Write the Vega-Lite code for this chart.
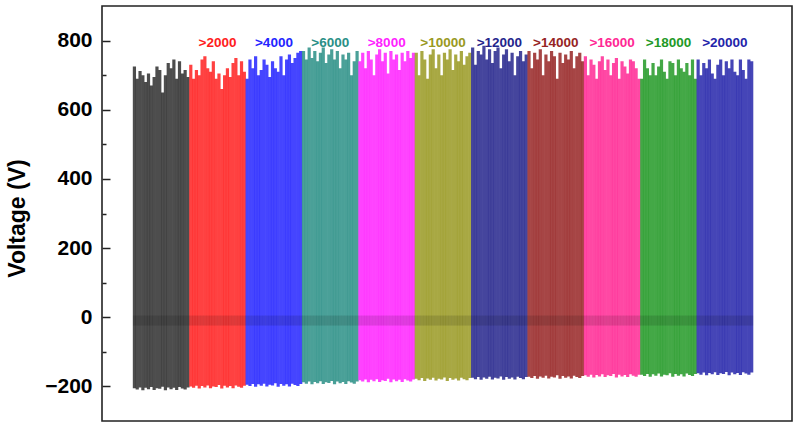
{
"$schema": "https://vega.github.io/schema/vega-lite/v6.json",
"width": 690, "height": 415,
"autosize": {"type": "none"},
"padding": {"left": 102, "top": 6, "right": 7, "bottom": 5},
"background": "white",
"config": {"view": {"stroke": "#222", "strokeWidth": 1.6}, "font": "Liberation Sans"},
"datasets": {
"sig": [
{"g":"0","t":0.025,"lo":-205,"hi":725},{"g":"0","t":0.075,"lo":-209,"hi":690},{"g":"0","t":0.125,"lo":-203,"hi":712},{"g":"0","t":0.175,"lo":-211,"hi":700},{"g":"0","t":0.225,"lo":-204,"hi":680},{"g":"0","t":0.275,"lo":-208,"hi":705},{"g":"0","t":0.325,"lo":-202,"hi":670},{"g":"0","t":0.375,"lo":-210,"hi":695},{"g":"0","t":0.425,"lo":-205,"hi":725},{"g":"0","t":0.475,"lo":-207,"hi":715},{"g":"0","t":0.525,"lo":-201,"hi":650},{"g":"0","t":0.575,"lo":-211,"hi":700},{"g":"0","t":0.625,"lo":-203,"hi":735},{"g":"0","t":0.675,"lo":-208,"hi":720},{"g":"0","t":0.725,"lo":-204,"hi":745},{"g":"0","t":0.775,"lo":-210,"hi":690},{"g":"0","t":0.825,"lo":-202,"hi":740},{"g":"0","t":0.875,"lo":-206,"hi":705},{"g":"0","t":0.925,"lo":-209,"hi":715},{"g":"0","t":0.975,"lo":-203,"hi":695},
{"g":">2000","t":1.025,"lo":-200,"hi":730},{"g":">2000","t":1.075,"lo":-204,"hi":690},{"g":">2000","t":1.125,"lo":-198,"hi":715},{"g":">2000","t":1.175,"lo":-206,"hi":700},{"g":">2000","t":1.225,"lo":-199,"hi":745},{"g":">2000","t":1.275,"lo":-203,"hi":755},{"g":">2000","t":1.325,"lo":-197,"hi":720},{"g":">2000","t":1.375,"lo":-205,"hi":710},{"g":">2000","t":1.425,"lo":-200,"hi":740},{"g":">2000","t":1.475,"lo":-202,"hi":690},{"g":">2000","t":1.525,"lo":-196,"hi":705},{"g":">2000","t":1.575,"lo":-206,"hi":660},{"g":">2000","t":1.625,"lo":-198,"hi":700},{"g":">2000","t":1.675,"lo":-203,"hi":720},{"g":">2000","t":1.725,"lo":-199,"hi":695},{"g":">2000","t":1.775,"lo":-205,"hi":735},{"g":">2000","t":1.825,"lo":-197,"hi":750},{"g":">2000","t":1.875,"lo":-201,"hi":700},{"g":">2000","t":1.925,"lo":-204,"hi":740},{"g":">2000","t":1.975,"lo":-198,"hi":710},
{"g":">4000","t":2.025,"lo":-195,"hi":690},{"g":">4000","t":2.075,"lo":-199,"hi":745},{"g":">4000","t":2.125,"lo":-193,"hi":720},{"g":">4000","t":2.175,"lo":-201,"hi":755},{"g":">4000","t":2.225,"lo":-194,"hi":700},{"g":">4000","t":2.275,"lo":-198,"hi":715},{"g":">4000","t":2.325,"lo":-192,"hi":745},{"g":">4000","t":2.375,"lo":-200,"hi":730},{"g":">4000","t":2.425,"lo":-195,"hi":695},{"g":">4000","t":2.475,"lo":-197,"hi":740},{"g":">4000","t":2.525,"lo":-191,"hi":720},{"g":">4000","t":2.575,"lo":-201,"hi":710},{"g":">4000","t":2.625,"lo":-193,"hi":755},{"g":">4000","t":2.675,"lo":-198,"hi":700},{"g":">4000","t":2.725,"lo":-194,"hi":745},{"g":">4000","t":2.775,"lo":-200,"hi":760},{"g":">4000","t":2.825,"lo":-192,"hi":735},{"g":">4000","t":2.875,"lo":-196,"hi":750},{"g":">4000","t":2.925,"lo":-199,"hi":765},{"g":">4000","t":2.975,"lo":-193,"hi":770},
{"g":">6000","t":3.025,"lo":-188,"hi":770},{"g":">6000","t":3.075,"lo":-192,"hi":745},{"g":">6000","t":3.125,"lo":-186,"hi":780},{"g":">6000","t":3.175,"lo":-194,"hi":750},{"g":">6000","t":3.225,"lo":-187,"hi":770},{"g":">6000","t":3.275,"lo":-191,"hi":740},{"g":">6000","t":3.325,"lo":-185,"hi":765},{"g":">6000","t":3.375,"lo":-193,"hi":780},{"g":">6000","t":3.425,"lo":-188,"hi":735},{"g":">6000","t":3.475,"lo":-190,"hi":760},{"g":">6000","t":3.525,"lo":-184,"hi":775},{"g":">6000","t":3.575,"lo":-194,"hi":745},{"g":">6000","t":3.625,"lo":-186,"hi":770},{"g":">6000","t":3.675,"lo":-191,"hi":720},{"g":">6000","t":3.725,"lo":-187,"hi":760},{"g":">6000","t":3.775,"lo":-193,"hi":745},{"g":">6000","t":3.825,"lo":-185,"hi":765},{"g":">6000","t":3.875,"lo":-189,"hi":700},{"g":">6000","t":3.925,"lo":-192,"hi":740},{"g":">6000","t":3.975,"lo":-186,"hi":770},
{"g":">8000","t":4.025,"lo":-182,"hi":740},{"g":">8000","t":4.075,"lo":-186,"hi":765},{"g":">8000","t":4.125,"lo":-180,"hi":720},{"g":">8000","t":4.175,"lo":-188,"hi":770},{"g":">8000","t":4.225,"lo":-181,"hi":745},{"g":">8000","t":4.275,"lo":-185,"hi":700},{"g":">8000","t":4.325,"lo":-179,"hi":760},{"g":">8000","t":4.375,"lo":-187,"hi":775},{"g":">8000","t":4.425,"lo":-182,"hi":740},{"g":">8000","t":4.475,"lo":-184,"hi":765},{"g":">8000","t":4.525,"lo":-178,"hi":705},{"g":">8000","t":4.575,"lo":-188,"hi":770},{"g":">8000","t":4.625,"lo":-180,"hi":745},{"g":">8000","t":4.675,"lo":-185,"hi":760},{"g":">8000","t":4.725,"lo":-181,"hi":715},{"g":">8000","t":4.775,"lo":-187,"hi":765},{"g":">8000","t":4.825,"lo":-179,"hi":740},{"g":">8000","t":4.875,"lo":-183,"hi":770},{"g":">8000","t":4.925,"lo":-186,"hi":750},{"g":">8000","t":4.975,"lo":-180,"hi":765},
{"g":">10000","t":5.025,"lo":-178,"hi":765},{"g":">10000","t":5.075,"lo":-182,"hi":700},{"g":">10000","t":5.125,"lo":-176,"hi":770},{"g":">10000","t":5.175,"lo":-184,"hi":745},{"g":">10000","t":5.225,"lo":-177,"hi":690},{"g":">10000","t":5.275,"lo":-181,"hi":760},{"g":">10000","t":5.325,"lo":-175,"hi":775},{"g":">10000","t":5.375,"lo":-183,"hi":720},{"g":">10000","t":5.425,"lo":-178,"hi":760},{"g":">10000","t":5.475,"lo":-180,"hi":700},{"g":">10000","t":5.525,"lo":-174,"hi":765},{"g":">10000","t":5.575,"lo":-184,"hi":745},{"g":">10000","t":5.625,"lo":-176,"hi":775},{"g":">10000","t":5.675,"lo":-181,"hi":715},{"g":">10000","t":5.725,"lo":-177,"hi":760},{"g":">10000","t":5.775,"lo":-183,"hi":740},{"g":">10000","t":5.825,"lo":-175,"hi":770},{"g":">10000","t":5.875,"lo":-179,"hi":730},{"g":">10000","t":5.925,"lo":-182,"hi":755},{"g":">10000","t":5.975,"lo":-176,"hi":765},
{"g":">12000","t":6.025,"lo":-175,"hi":780},{"g":">12000","t":6.075,"lo":-179,"hi":730},{"g":">12000","t":6.125,"lo":-173,"hi":770},{"g":">12000","t":6.175,"lo":-181,"hi":760},{"g":">12000","t":6.225,"lo":-174,"hi":785},{"g":">12000","t":6.275,"lo":-178,"hi":745},{"g":">12000","t":6.325,"lo":-172,"hi":775},{"g":">12000","t":6.375,"lo":-180,"hi":735},{"g":">12000","t":6.425,"lo":-175,"hi":770},{"g":">12000","t":6.475,"lo":-177,"hi":780},{"g":">12000","t":6.525,"lo":-171,"hi":720},{"g":">12000","t":6.575,"lo":-181,"hi":760},{"g":">12000","t":6.625,"lo":-173,"hi":775},{"g":">12000","t":6.675,"lo":-178,"hi":740},{"g":">12000","t":6.725,"lo":-174,"hi":765},{"g":">12000","t":6.775,"lo":-180,"hi":700},{"g":">12000","t":6.825,"lo":-172,"hi":755},{"g":">12000","t":6.875,"lo":-176,"hi":770},{"g":">12000","t":6.925,"lo":-179,"hi":740},{"g":">12000","t":6.975,"lo":-173,"hi":760},
{"g":">14000","t":7.025,"lo":-172,"hi":770},{"g":">14000","t":7.075,"lo":-176,"hi":720},{"g":">14000","t":7.125,"lo":-170,"hi":765},{"g":">14000","t":7.175,"lo":-178,"hi":745},{"g":">14000","t":7.225,"lo":-171,"hi":775},{"g":">14000","t":7.275,"lo":-175,"hi":700},{"g":">14000","t":7.325,"lo":-169,"hi":760},{"g":">14000","t":7.375,"lo":-177,"hi":740},{"g":">14000","t":7.425,"lo":-172,"hi":770},{"g":">14000","t":7.475,"lo":-174,"hi":755},{"g":">14000","t":7.525,"lo":-168,"hi":690},{"g":">14000","t":7.575,"lo":-178,"hi":765},{"g":">14000","t":7.625,"lo":-170,"hi":735},{"g":">14000","t":7.675,"lo":-175,"hi":760},{"g":">14000","t":7.725,"lo":-171,"hi":745},{"g":">14000","t":7.775,"lo":-177,"hi":770},{"g":">14000","t":7.825,"lo":-169,"hi":720},{"g":">14000","t":7.875,"lo":-173,"hi":755},{"g":">14000","t":7.925,"lo":-176,"hi":765},{"g":">14000","t":7.975,"lo":-170,"hi":740},
{"g":">16000","t":8.025,"lo":-168,"hi":755},{"g":">16000","t":8.075,"lo":-172,"hi":700},{"g":">16000","t":8.125,"lo":-166,"hi":745},{"g":">16000","t":8.175,"lo":-174,"hi":730},{"g":">16000","t":8.225,"lo":-167,"hi":690},{"g":">16000","t":8.275,"lo":-171,"hi":740},{"g":">16000","t":8.325,"lo":-165,"hi":755},{"g":">16000","t":8.375,"lo":-173,"hi":715},{"g":">16000","t":8.425,"lo":-168,"hi":745},{"g":">16000","t":8.475,"lo":-170,"hi":700},{"g":">16000","t":8.525,"lo":-164,"hi":735},{"g":">16000","t":8.575,"lo":-174,"hi":750},{"g":">16000","t":8.625,"lo":-166,"hi":690},{"g":">16000","t":8.675,"lo":-171,"hi":740},{"g":">16000","t":8.725,"lo":-167,"hi":725},{"g":">16000","t":8.775,"lo":-173,"hi":705},{"g":">16000","t":8.825,"lo":-165,"hi":745},{"g":">16000","t":8.875,"lo":-169,"hi":740},{"g":">16000","t":8.925,"lo":-172,"hi":720},{"g":">16000","t":8.975,"lo":-166,"hi":690},
{"g":">18000","t":9.025,"lo":-166,"hi":690},{"g":">18000","t":9.075,"lo":-170,"hi":745},{"g":">18000","t":9.125,"lo":-164,"hi":720},{"g":">18000","t":9.175,"lo":-172,"hi":700},{"g":">18000","t":9.225,"lo":-165,"hi":735},{"g":">18000","t":9.275,"lo":-169,"hi":700},{"g":">18000","t":9.325,"lo":-163,"hi":725},{"g":">18000","t":9.375,"lo":-171,"hi":745},{"g":">18000","t":9.425,"lo":-166,"hi":710},{"g":">18000","t":9.475,"lo":-168,"hi":690},{"g":">18000","t":9.525,"lo":-162,"hi":740},{"g":">18000","t":9.575,"lo":-172,"hi":735},{"g":">18000","t":9.625,"lo":-164,"hi":700},{"g":">18000","t":9.675,"lo":-169,"hi":745},{"g":">18000","t":9.725,"lo":-165,"hi":720},{"g":">18000","t":9.775,"lo":-171,"hi":710},{"g":">18000","t":9.825,"lo":-163,"hi":735},{"g":">18000","t":9.875,"lo":-167,"hi":700},{"g":">18000","t":9.925,"lo":-170,"hi":745},{"g":">18000","t":9.975,"lo":-164,"hi":690},
{"g":">20000","t":10.025,"lo":-162,"hi":745},{"g":">20000","t":10.075,"lo":-166,"hi":700},{"g":">20000","t":10.125,"lo":-160,"hi":735},{"g":">20000","t":10.175,"lo":-168,"hi":720},{"g":">20000","t":10.225,"lo":-161,"hi":745},{"g":">20000","t":10.275,"lo":-165,"hi":705},{"g":">20000","t":10.325,"lo":-159,"hi":690},{"g":">20000","t":10.375,"lo":-167,"hi":730},{"g":">20000","t":10.425,"lo":-162,"hi":745},{"g":">20000","t":10.475,"lo":-164,"hi":700},{"g":">20000","t":10.525,"lo":-158,"hi":740},{"g":">20000","t":10.575,"lo":-168,"hi":720},{"g":">20000","t":10.625,"lo":-160,"hi":745},{"g":">20000","t":10.675,"lo":-165,"hi":710},{"g":">20000","t":10.725,"lo":-161,"hi":700},{"g":">20000","t":10.775,"lo":-167,"hi":745},{"g":">20000","t":10.825,"lo":-159,"hi":715},{"g":">20000","t":10.875,"lo":-163,"hi":690},{"g":">20000","t":10.925,"lo":-166,"hi":745},{"g":">20000","t":10.975,"lo":-160,"hi":740}
],
"lab": [
{"g":">2000","t":1.5},{"g":">4000","t":2.5},{"g":">6000","t":3.5},{"g":">8000","t":4.5},{"g":">10000","t":5.5},{"g":">12000","t":6.5},{"g":">14000","t":7.5},{"g":">16000","t":8.5},{"g":">18000","t":9.5},{"g":">20000","t":10.5}
]
},
"resolve": {"axis": {"y": "independent"}},
"layer": [
{
"data": {"name": "sig"},
"mark": {"type": "rule", "strokeWidth": 3.2, "opacity": 0.85},
"encoding": {
"x": {"field": "t", "type": "quantitative", "scale": {"domain": [-0.55, 11.69], "nice": false, "zero": false}, "axis": null},
"y": {"field": "lo", "type": "quantitative", "scale": {"domain": [-300, 900], "nice": false, "zero": false},
"axis": {"orient": "left", "values": [-200, 0, 200, 400, 600, 800], "tickSize": -8, "tickWidth": 1.5, "tickColor": "#222", "labelPadding": 18, "labelFontSize": 21, "labelFontWeight": "bold", "labelColor": "#000", "domain": false, "grid": false, "title": "Voltage (V)", "titleFontSize": 23, "titleFontWeight": "bold", "titleColor": "#000", "titleX": -85, "titleY": 212, "titleAngle": -90, "titleAlign": "center", "titleBaseline": "middle"}},
"y2": {"field": "hi"},
"color": {"field": "g", "type": "nominal", "legend": null,
"scale": {"domain": ["0", ">2000", ">4000", ">6000", ">8000", ">10000", ">12000", ">14000", ">16000", ">18000", ">20000"],
"range": ["#2e2e2e", "#ff2020", "#2424ff", "#2a8f86", "#ff22ff", "#999922", "#24248c", "#962424", "#ff2894", "#229926", "#2424aa"]}}
}
},
{
"data": {"name": "sig"},
"mark": {"type": "rule", "strokeWidth": 3, "color": "#000", "opacity": 0.12},
"encoding": {
"x": {"field": "t", "type": "quantitative", "axis": null},
"y": {"datum": -24, "type": "quantitative", "axis": {"orient": "left", "values": [-100, 100, 300, 500, 700], "tickSize": -4, "tickWidth": 1.5, "tickColor": "#222", "labels": false, "domain": false, "grid": false, "title": null}},
"y2": {"datum": 5}
}
},
{
"data": {"name": "lab"},
"mark": {"type": "text", "fontWeight": "bold", "fontSize": 13.5, "baseline": "middle", "align": "center"},
"encoding": {
"x": {"field": "t", "type": "quantitative", "axis": null},
"y": {"datum": 793, "type": "quantitative", "axis": null},
"text": {"field": "g"},
"color": {"field": "g", "type": "nominal", "legend": null}
}
}
]
}
